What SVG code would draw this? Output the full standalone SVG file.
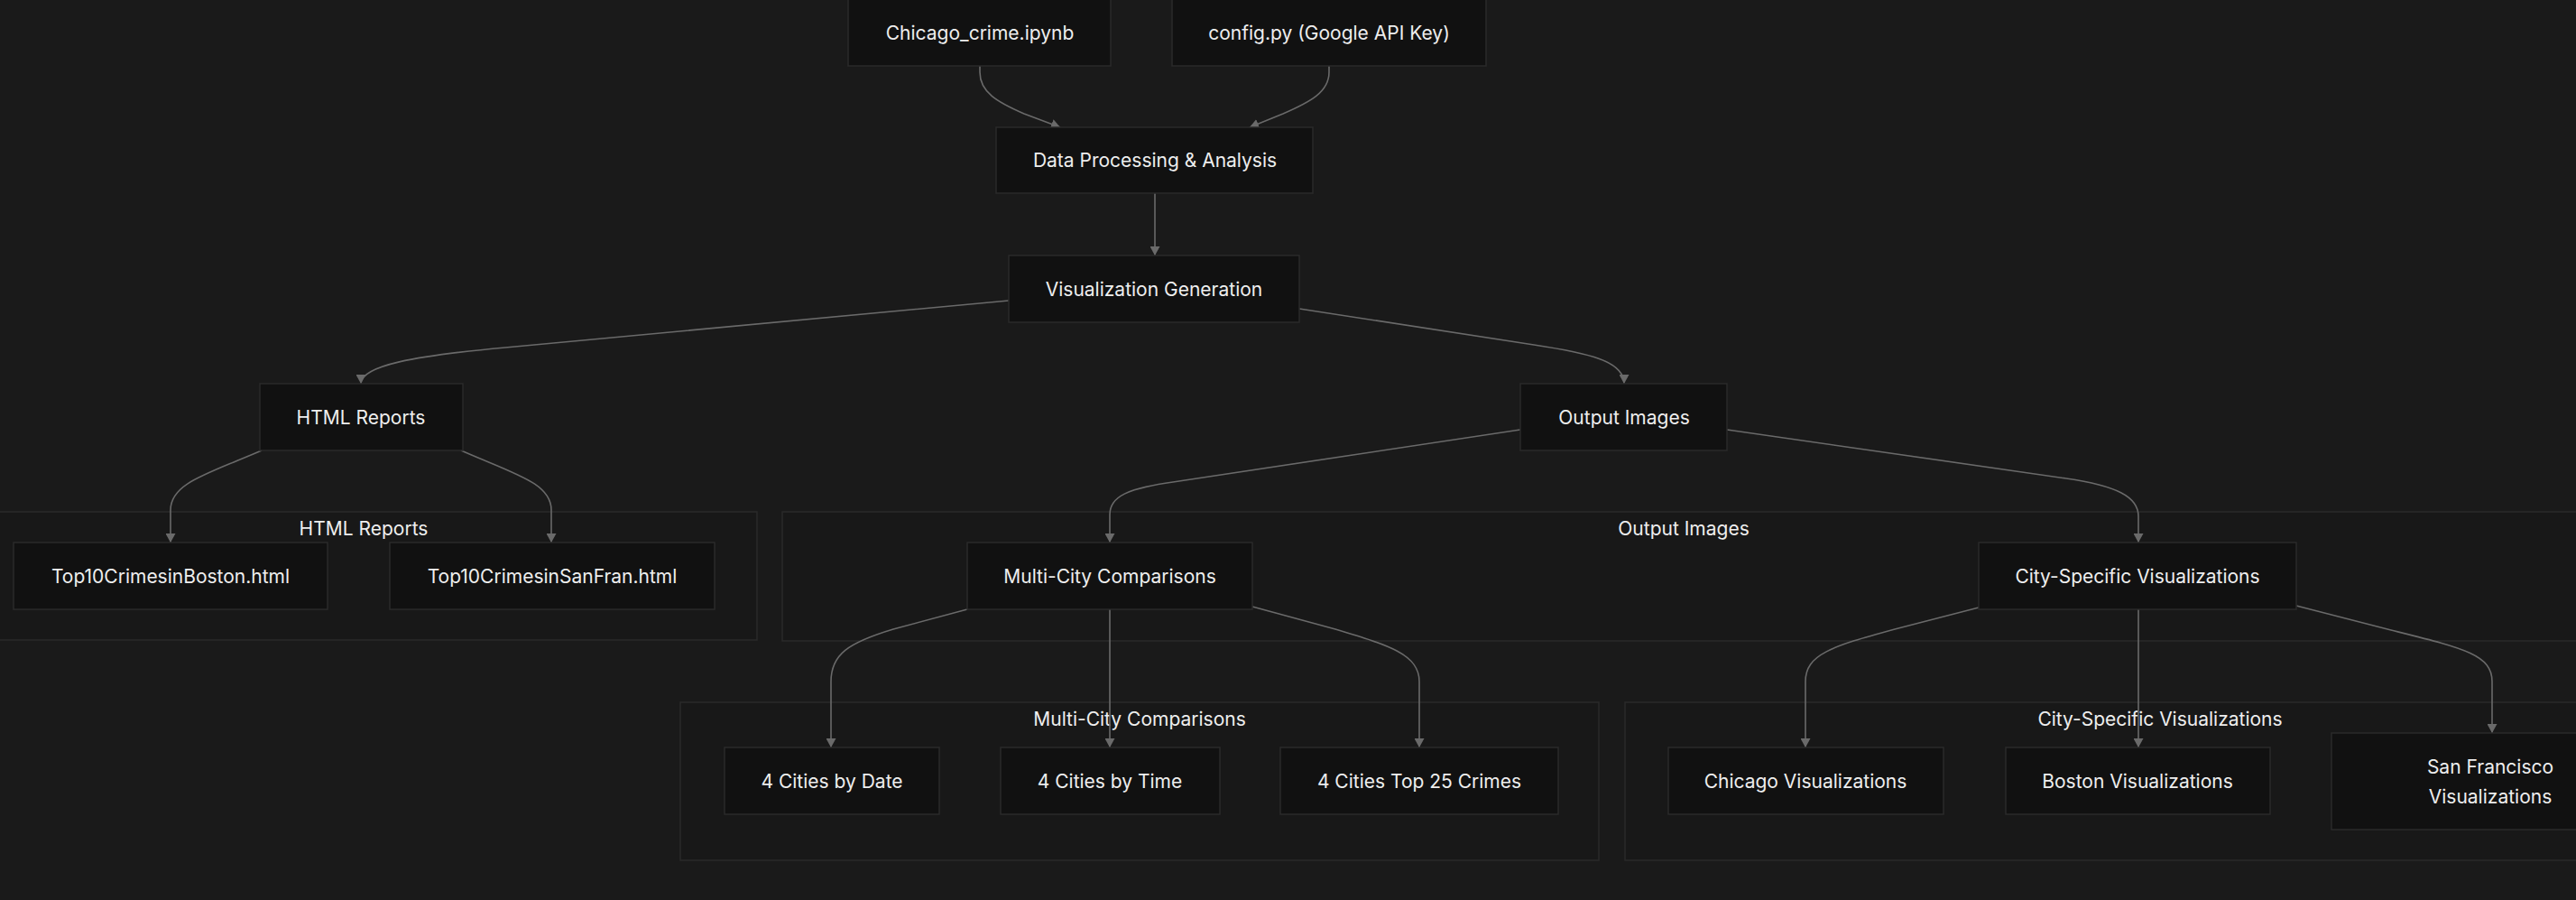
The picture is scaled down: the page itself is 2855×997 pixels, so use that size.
<svg xmlns="http://www.w3.org/2000/svg" width="2855" height="997" viewBox="0 0 2855 997">
<defs>
<style>
.bg{fill:#1a1a1a}
.cluster rect{fill:#181818;stroke:#2a2a2a;stroke-width:1.5}
.node rect{fill:#111111;stroke:#2a2a2a;stroke-width:1.5}
text{font-family:Inter,"Noto Sans","Liberation Sans",sans-serif;font-size:21px;fill:#eeeeee;text-anchor:middle}
.edges path{fill:none;stroke:#6a6a6a;stroke-width:1.6;marker-end:url(#arrow)}
</style>
<marker id="arrow" viewBox="0 0 10 11" refX="10" refY="5.5" markerWidth="10" markerHeight="11" markerUnits="userSpaceOnUse" orient="auto">
<path d="M0,0 L10,5.5 L0,11 z" fill="#6a6a6a"/>
</marker>
</defs>
<rect class="bg" x="0" y="0" width="2855" height="997"/>

<g id="clusters">
<g id="cluster-html" class="cluster"><rect x="-33" y="567" width="872" height="142"/><text x="403" y="593">HTML Reports</text></g>
<g id="cluster-output" class="cluster"><rect x="867" y="567" width="1998" height="143"/><text x="1866" y="593">Output Images</text></g>
<g id="cluster-multi" class="cluster"><rect x="754" y="778" width="1018" height="175"/><text x="1263" y="804">Multi-City Comparisons</text></g>
<g id="cluster-city" class="cluster"><rect x="1801" y="778" width="1186" height="175"/><text x="2394" y="804">City-Specific Visualizations</text></g>
</g>

<g id="connectors" class="edges">
<path d="M1086,73 L1086,80 C1086,102 1105,113 1135,126 L1175,141"/>
<path d="M1473,73 L1473,80 C1473,102 1452,113 1422,126 L1385,141"/>
<path d="M1280,214 L1280,283"/>
<path d="M1118,333 L560,385 C460,394 400,405 400,425"/>
<path d="M1440,342 L1700,382 C1760,391 1800,400 1800,425"/>
<path d="M290,499 C230,525 189,535 189,565 L189,601"/>
<path d="M511,499 C570,525 611,535 611,565 L611,601"/>
<path d="M1685,476 L1300,534 C1250,541 1230,550 1230,570 L1230,601"/>
<path d="M1914,476 L2290,530 C2345,538 2370,550 2370,572 L2370,601"/>
<path d="M1072,675 L990,697 C940,712 921,725 921,755 L921,828"/>
<path d="M1230,675 L1230,828"/>
<path d="M1388,672 L1480,697 C1540,715 1573,725 1573,755 L1573,828"/>
<path d="M2193,673 L2100,697 C2030,716 2001,725 2001,755 L2001,828"/>
<path d="M2370,675 L2370,828"/>
<path d="M2545,671 L2650,698 C2730,718 2762,725 2762,755 L2762,812"/>
</g>

<g id="n-chicago-ipynb" class="node"><rect x="940" y="-1" width="291" height="74"/><text x="1086" y="44">Chicago_crime.ipynb</text></g>
<g id="n-config" class="node"><rect x="1299" y="-1" width="348" height="74"/><text x="1473" y="44">config.py (Google API Key)</text></g>
<g id="n-dataproc" class="node"><rect x="1104" y="141" width="351" height="73"/><text x="1280" y="185">Data Processing &amp; Analysis</text></g>
<g id="n-visgen" class="node"><rect x="1118" y="283" width="322" height="74"/><text x="1279" y="328">Visualization Generation</text></g>
<g id="n-html" class="node"><rect x="288" y="425" width="225" height="74"/><text x="400" y="470">HTML Reports</text></g>
<g id="n-output" class="node"><rect x="1685" y="425" width="229" height="74"/><text x="1800" y="470">Output Images</text></g>
<g id="n-boston-html" class="node"><rect x="15" y="601" width="348" height="74"/><text x="189" y="646">Top10CrimesinBoston.html</text></g>
<g id="n-sanfran-html" class="node"><rect x="432" y="601" width="360" height="74"/><text x="612" y="646">Top10CrimesinSanFran.html</text></g>
<g id="n-multi" class="node"><rect x="1072" y="601" width="316" height="74"/><text x="1230" y="646">Multi-City Comparisons</text></g>
<g id="n-city" class="node"><rect x="2193" y="601" width="352" height="74"/><text x="2369" y="646">City-Specific Visualizations</text></g>
<g id="n-date" class="node"><rect x="803" y="828" width="238" height="74"/><text x="922" y="873">4 Cities by Date</text></g>
<g id="n-time" class="node"><rect x="1109" y="828" width="243" height="74"/><text x="1230" y="873">4 Cities by Time</text></g>
<g id="n-top25" class="node"><rect x="1419" y="828" width="308" height="74"/><text x="1573" y="873">4 Cities Top 25 Crimes</text></g>
<g id="n-chicago-vis" class="node"><rect x="1849" y="828" width="305" height="74"/><text x="2001" y="873">Chicago Visualizations</text></g>
<g id="n-boston-vis" class="node"><rect x="2223" y="828" width="293" height="74"/><text x="2369" y="873">Boston Visualizations</text></g>
<g id="n-sf-vis" class="node"><rect x="2584" y="812" width="352" height="107"/><text x="2760" y="857">San Francisco</text><text x="2760" y="890">Visualizations</text></g>
</svg>
